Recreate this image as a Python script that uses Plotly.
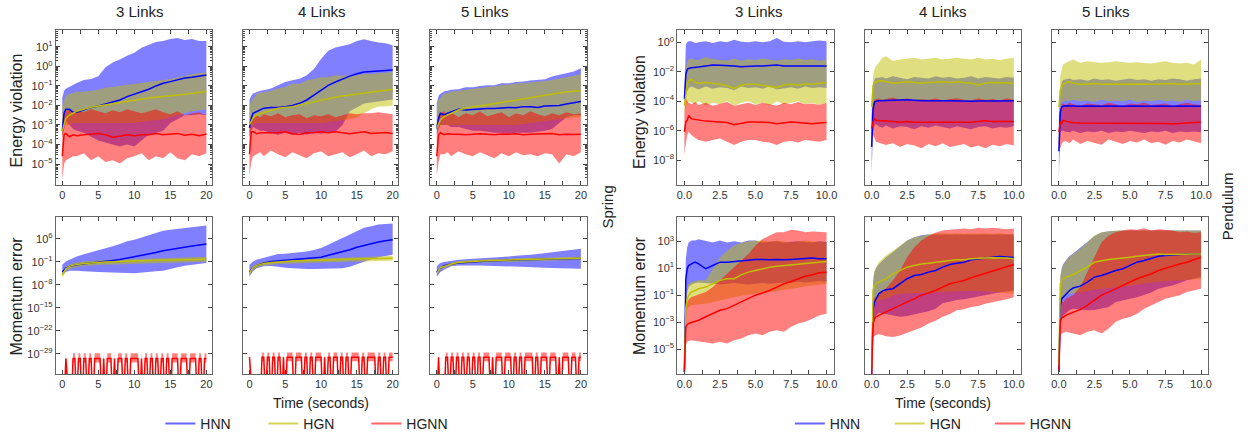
import plotly.graph_objects as go

# ------------------------------------------------------------------
# Data: log10 of the values
# ------------------------------------------------------------------
t_L = [0, 0.25, 0.5, 1, 1.5, 2, 3, 4, 5, 6, 7, 8, 9, 10, 11, 12, 13, 14, 15, 16, 17, 18, 19, 20]
t_S = [0, 0.25, 0.5, 0.75, 1, 1.25, 1.5, 1.75, 2, 2.25, 2.5, 2.75, 3, 3.25, 3.5, 3.75, 4, 4.25, 4.5, 4.75,
       5, 5.25, 5.5, 5.75, 6, 6.25, 6.5, 6.75, 7, 7.25, 7.5, 7.75, 8, 8.25, 8.5, 8.75, 9, 9.25, 9.5, 9.75,
       10, 10.25, 10.5, 10.75, 11, 11.25, 11.5, 11.75, 12, 12.25, 12.5, 12.75, 13, 13.25, 13.5, 13.75,
       14, 14.25, 14.5, 14.75, 15, 15.25, 15.5, 15.75, 16, 16.25, 16.5, 16.75, 17, 17.25, 17.5, 17.75,
       18, 18.25, 18.5, 18.75, 19, 19.25, 19.5, 19.75, 20]
t_R = [0, 0.05, 0.1, 0.2, 0.3, 0.5, 0.75, 1, 1.5, 2, 2.5, 3, 3.5, 4, 4.5, 5, 5.5, 6, 6.5, 7, 7.5, 8, 8.5, 9, 9.5, 10]

links = ["3 Links", "4 Links", "5 Links"]
models = ["HNN", "HGN", "HGNN"]

# ---- Spring, energy violation ----
spr3_ev_hnn_hi = [-1.6, -1.25, -1.15, -1.05, -0.95, -0.85, -0.7, -0.65, -0.5, -0.05, 0.2, 0.35, 0.55, 0.7, 0.95, 1.1, 1.25, 1.3, 1.4, 1.45, 1.35, 1.4, 1.3, 1.3]
spr3_ev_hnn_mid = [-3.3, -2.4, -2.2, -2.2, -2.35, -2.35, -2.23, -2.1, -2.03, -1.94, -1.85, -1.72, -1.55, -1.43, -1.29, -1.17, -1.0, -0.86, -0.78, -0.69, -0.6, -0.56, -0.49, -0.44]
spr3_ev_hnn_lo = [-3.6, -3.2, -2.8, -3.0, -3.2, -3.3, -3.4, -3.6, -3.8, -3.9, -4.0, -4.1, -4.0, -4.1, -3.8, -3.5, -3.4, -3.3, -2.9, -2.7, -2.5, -2.5, -2.45, -2.5]
spr3_ev_hgn_hi = [-2.0, -1.7, -1.5, -1.4, -1.35, -1.3, -1.3, -1.25, -1.2, -1.1, -1.05, -1.0, -0.95, -0.9, -0.85, -0.8, -0.75, -0.7, -0.65, -0.55, -0.5, -0.4, -0.35, -0.3]
spr3_ev_hgn_mid = [-3.3, -2.9, -2.66, -2.49, -2.4, -2.3, -2.2, -2.09, -2.03, -1.97, -1.9, -1.85, -1.78, -1.72, -1.67, -1.62, -1.58, -1.55, -1.5, -1.46, -1.42, -1.38, -1.33, -1.29]
spr3_ev_hgn_lo = [-3.6, -3.2, -3.0, -3.0, -2.9, -2.9, -2.9, -2.9, -2.9, -2.9, -2.9, -2.9, -2.9, -2.9, -2.85, -2.8, -2.75, -2.7, -2.6, -2.5, -2.4, -2.3, -2.25, -2.2]
spr3_ev_hgnn_hi = [-3.3, -2.4, -2.3, -2.2, -2.4, -2.25, -2.35, -2.2, -2.3, -2.4, -2.25, -2.35, -2.2, -2.3, -2.4, -2.3, -2.2, -2.35, -2.45, -2.3, -2.5, -2.4, -2.35, -2.5]
spr3_ev_hgnn_mid = [-4.6, -3.5, -3.43, -3.6, -3.5, -3.55, -3.5, -3.45, -3.43, -3.5, -3.63, -3.58, -3.5, -3.55, -3.5, -3.5, -3.43, -3.5, -3.46, -3.43, -3.52, -3.48, -3.55, -3.46]
spr3_ev_hgnn_lo = [-5.8, -5.0, -4.8, -4.7, -4.6, -4.6, -4.45, -4.8, -4.6, -4.9, -4.8, -4.97, -4.7, -4.6, -4.45, -4.8, -4.6, -4.7, -4.4, -4.7, -4.8, -4.5, -4.6, -4.45]

spr4_ev_hnn_hi = [-1.72, -1.5, -1.39, -1.3, -1.25, -1.22, -1.13, -0.97, -0.8, -0.71, -0.63, -0.46, -0.13, 0.38, 0.8, 0.97, 1.05, 1.13, 1.3, 1.39, 1.3, 1.22, 1.18, 1.08]
spr4_ev_hnn_mid = [-3.15, -2.65, -2.4, -2.31, -2.23, -2.14, -2.1, -2.1, -2.06, -2.0, -1.89, -1.72, -1.47, -1.22, -0.97, -0.8, -0.63, -0.5, -0.38, -0.29, -0.26, -0.24, -0.21, -0.18]
spr4_ev_hnn_lo = [-3.6, -3.3, -3.1, -3.2, -3.3, -3.3, -3.4, -3.5, -3.4, -3.5, -3.4, -3.5, -3.4, -3.45, -3.4, -3.35, -3.0, -2.3, -2.1, -1.9, -1.85, -1.8, -1.75, -1.7]
spr4_ev_hgn_hi = [-1.97, -1.8, -1.64, -1.39, -1.35, -1.3, -1.25, -1.13, -1.05, -0.88, -0.9, -0.71, -0.65, -0.55, -0.55, -0.46, -0.48, -0.45, -0.47, -0.38, -0.4, -0.35, -0.33, -0.26]
spr4_ev_hgn_mid = [-2.98, -2.8, -2.65, -2.48, -2.42, -2.35, -2.23, -2.14, -2.1, -2.06, -1.97, -1.89, -1.8, -1.72, -1.64, -1.58, -1.52, -1.47, -1.39, -1.35, -1.3, -1.26, -1.22, -1.18]
spr4_ev_hgn_lo = [-3.4, -3.2, -3.0, -2.9, -2.9, -2.9, -2.9, -2.9, -2.9, -2.9, -2.9, -2.9, -2.9, -2.9, -2.85, -2.8, -2.75, -2.7, -2.6, -2.4, -2.2, -2.05, -2.05, -2.0]
spr4_ev_hgnn_hi = [-3.3, -2.7, -2.6, -2.5, -2.6, -2.45, -2.55, -2.4, -2.6, -2.5, -2.45, -2.65, -2.5, -2.55, -2.45, -2.6, -2.5, -2.4, -2.45, -2.4, -2.4, -2.35, -2.4, -2.45]
spr4_ev_hgnn_mid = [-4.5, -3.35, -3.34, -3.45, -3.4, -3.4, -3.37, -3.4, -3.35, -3.45, -3.49, -3.4, -3.4, -3.35, -3.4, -3.35, -3.4, -3.45, -3.4, -3.35, -3.43, -3.42, -3.38, -3.44]
spr4_ev_hgnn_lo = [-5.6, -4.9, -4.6, -4.5, -4.4, -4.6, -4.3, -4.5, -4.65, -4.4, -4.55, -4.7, -4.45, -4.35, -4.6, -4.5, -4.4, -4.65, -4.5, -4.3, -4.6, -4.45, -4.5, -4.35]

spr5_ev_hnn_hi = [-1.9, -1.5, -1.4, -1.29, -1.25, -1.2, -1.17, -1.07, -1.07, -1.0, -0.97, -0.97, -0.86, -0.86, -0.8, -0.78, -0.72, -0.69, -0.66, -0.52, -0.44, -0.35, -0.26, -0.1]
spr5_ev_hnn_mid = [-3.17, -2.66, -2.4, -2.49, -2.4, -2.32, -2.2, -2.23, -2.2, -2.18, -2.16, -2.15, -2.13, -2.1, -2.12, -2.06, -2.06, -2.1, -2.03, -2.03, -2.0, -1.92, -1.85, -1.8]
spr5_ev_hnn_lo = [-3.5, -3.2, -3.0, -3.0, -3.0, -3.1, -3.1, -3.2, -3.3, -3.3, -3.35, -3.4, -3.4, -3.45, -3.4, -3.4, -3.4, -3.35, -3.3, -3.2, -2.9, -2.6, -2.5, -2.5]
spr5_ev_hgn_hi = [-2.1, -1.7, -1.6, -1.4, -1.35, -1.3, -1.25, -1.2, -1.15, -1.1, -1.05, -1.0, -0.95, -0.9, -0.88, -0.85, -0.82, -0.8, -0.75, -0.7, -0.62, -0.55, -0.48, -0.4]
spr5_ev_hgn_mid = [-3.17, -2.95, -2.74, -2.57, -2.48, -2.4, -2.23, -2.15, -2.06, -2.03, -1.97, -1.89, -1.83, -1.77, -1.72, -1.67, -1.61, -1.55, -1.49, -1.43, -1.37, -1.3, -1.27, -1.24]
spr5_ev_hgn_lo = [-3.5, -3.2, -3.0, -3.0, -3.0, -3.0, -3.0, -3.0, -3.0, -3.0, -3.0, -3.0, -3.0, -3.0, -3.0, -2.95, -2.9, -2.85, -2.8, -2.75, -2.7, -2.65, -2.6, -2.6]
spr5_ev_hgnn_hi = [-3.5, -2.5, -2.4, -2.3, -2.5, -2.35, -2.6, -2.4, -2.5, -2.3, -2.55, -2.45, -2.35, -2.6, -2.4, -2.5, -2.3, -2.45, -2.55, -2.4, -2.5, -2.35, -2.45, -2.4]
spr5_ev_hgnn_mid = [-4.6, -3.5, -3.4, -3.5, -3.45, -3.48, -3.47, -3.5, -3.48, -3.45, -3.48, -3.5, -3.46, -3.48, -3.45, -3.5, -3.47, -3.46, -3.48, -3.44, -3.5, -3.47, -3.49, -3.48]
spr5_ev_hgnn_lo = [-5.6, -4.9, -4.5, -4.5, -4.4, -4.6, -4.35, -4.5, -4.6, -4.4, -4.55, -4.7, -4.45, -4.6, -4.4, -4.55, -4.5, -4.6, -4.45, -4.5, -4.97, -4.5, -4.6, -4.4]

# ---- Spring, momentum error ----
spr3_me_hnn_hi = [-1.9, -1.3, -0.9, -0.4, 0.1, 0.6, 1.3, 1.9, 2.35, 3.0, 3.7, 4.4, 5.2, 5.7, 6.4, 7.2, 7.9, 8.4, 8.7, 9.0, 9.2, 9.4, 9.75, 10.0]
spr3_me_hnn_mid = [-4.1, -3.4, -2.9, -2.4, -2.1, -1.9, -1.6, -1.4, -1.1, -0.9, -0.6, -0.3, 0.1, 0.4, 0.9, 1.3, 1.8, 2.35, 2.75, 3.15, 3.45, 3.8, 4.1, 4.4]
spr3_me_hnn_lo = [-5.0, -4.5, -4.1, -3.7, -3.7, -3.7, -3.9, -4.1, -4.1, -4.2, -4.3, -4.4, -4.4, -4.5, -4.3, -4.1, -3.9, -3.7, -3.2, -2.7, -2.2, -1.9, -1.6, -1.4]
spr3_me_hgn_hi = [-4.2, -3.2, -2.5, -1.8, -1.4, -1.2, -0.9, -0.7, -0.6, -0.5, -0.4, -0.3, -0.2, -0.1, -0.05, 0.0, 0.05, 0.1, 0.15, 0.2, 0.3, 0.4, 0.45, 0.5]
spr3_me_hgn_mid = [-5.0, -3.9, -3.1, -2.4, -2.0, -1.8, -1.5, -1.3, -1.2, -1.1, -1.0, -0.9, -0.8, -0.7, -0.65, -0.6, -0.55, -0.5, -0.45, -0.4, -0.35, -0.3, -0.25, -0.2]
spr3_me_hgn_lo = [-6.0, -4.8, -3.9, -3.2, -2.8, -2.6, -2.3, -2.1, -2.0, -1.9, -1.8, -1.7, -1.6, -1.5, -1.45, -1.4, -1.35, -1.3, -1.25, -1.2, -1.15, -1.1, -1.05, -1.0]

spr4_me_hnn_hi = [-1.9, -1.3, -0.9, -0.4, -0.1, 0.1, 0.8, 1.35, 1.45, 1.65, 1.85, 2.15, 2.55, 3.2, 4.2, 5.2, 6.4, 7.45, 8.45, 9.3, 9.8, 10.3, 10.5, 10.6]
spr4_me_hnn_mid = [-4.1, -3.2, -2.7, -2.1, -1.7, -1.4, -0.9, -0.7, -0.6, -0.4, -0.2, -0.1, 0.1, 0.4, 0.95, 1.45, 1.95, 2.65, 3.4, 4.0, 4.5, 5.0, 5.4, 5.7]
spr4_me_hnn_lo = [-5.45, -4.6, -3.9, -3.0, -2.6, -2.4, -2.3, -2.5, -2.8, -3.0, -3.1, -3.2, -3.2, -3.2, -3.2, -3.1, -3.0, -2.5, -1.9, -1.0, -0.2, 0.4, 0.8, 1.1]
spr4_me_hgn_hi = [-3.7, -2.8, -2.2, -1.6, -1.25, -1.0, -0.7, -0.5, -0.4, -0.3, -0.2, -0.1, -0.05, 0.0, 0.05, 0.1, 0.2, 0.3, 0.35, 0.45, 0.55, 0.65, 0.75, 0.8]
spr4_me_hgn_mid = [-4.45, -3.4, -2.7, -2.1, -1.75, -1.5, -1.2, -1.0, -0.9, -0.8, -0.7, -0.6, -0.55, -0.5, -0.45, -0.4, -0.3, -0.2, -0.15, -0.1, -0.05, 0.0, 0.05, 0.1]
spr4_me_hgn_lo = [-5.4, -4.2, -3.4, -2.8, -2.4, -2.2, -1.9, -1.7, -1.6, -1.5, -1.4, -1.3, -1.25, -1.2, -1.15, -1.1, -1.0, -0.95, -0.9, -0.85, -0.8, -0.75, -0.7, -0.7]

spr5_me_hnn_hi = [-2.4, -1.8, -1.4, -1.1, -0.9, -0.7, -0.4, -0.2, -0.1, 0.1, 0.2, 0.3, 0.5, 0.6, 0.8, 0.9, 1.15, 1.35, 1.65, 1.95, 2.15, 2.35, 2.65, 2.95]
spr5_me_hnn_mid = [-4.1, -3.4, -2.9, -2.2, -1.9, -1.7, -1.4, -1.2, -1.1, -0.9, -0.8, -0.7, -0.6, -0.5, -0.45, -0.4, -0.35, -0.3, -0.25, -0.2, -0.15, -0.1, -0.05, 0.0]
spr5_me_hnn_lo = [-5.45, -4.7, -4.1, -3.4, -2.8, -2.4, -2.1, -2.1, -2.1, -2.1, -2.2, -2.2, -2.3, -2.4, -2.4, -2.5, -2.6, -2.7, -2.8, -2.9, -3.0, -3.05, -3.1, -3.1]
spr5_me_hgn_hi = [-3.9, -2.9, -2.35, -1.95, -1.55, -1.3, -0.8, -0.6, -0.5, -0.4, -0.3, -0.2, -0.1, 0.0, 0.05, 0.1, 0.15, 0.2, 0.25, 0.3, 0.35, 0.4, 0.45, 0.5]
spr5_me_hgn_mid = [-4.45, -3.4, -2.8, -2.4, -1.95, -1.7, -1.2, -1.0, -0.9, -0.8, -0.7, -0.6, -0.5, -0.4, -0.35, -0.3, -0.25, -0.2, -0.15, -0.1, -0.05, 0.0, 0.05, 0.1]
spr5_me_hgn_lo = [-5.0, -3.9, -3.3, -2.9, -2.45, -2.2, -1.7, -1.5, -1.4, -1.3, -1.2, -1.1, -1.0, -0.9, -0.85, -0.8, -0.75, -0.7, -0.65, -0.6, -0.55, -0.5, -0.45, -0.4]

# HGNN momentum error on the spring is ~1e-30 and exactly zero at many steps.
spr3_me_hgnn_on = [0, 0, 1, 0, 0, 0, 1, 1, 0, 1, 1, 0, 1, 1, 0, 1, 1, 0, 1, 1, 1, 1, 0, 1, 0, 1, 1, 1, 0, 1, 0, 1,
                   1, 1, 0, 1, 1, 0, 1, 1, 1, 1, 1, 0, 1, 0, 1, 1, 0, 1, 1, 0, 1, 1, 0, 1, 1, 0, 1, 1, 0, 1, 1, 1,
                   1, 0, 1, 1, 1, 1, 0, 1, 1, 1, 1, 0, 1, 1, 0, 1, 1]
spr4_me_hgnn_on = [1, 0, 0, 0, 0, 0, 0, 1, 1, 0, 1, 1, 0, 1, 1, 0, 1, 1, 0, 1, 0, 1, 1, 1, 1, 0, 1, 1, 1, 1, 0, 1,
                   1, 0, 1, 1, 0, 1, 1, 1, 1, 0, 1, 0, 1, 1, 0, 1, 1, 1, 0, 1, 1, 0, 1, 1, 0, 1, 1, 1, 1, 1, 0, 1,
                   1, 0, 1, 1, 1, 1, 1, 0, 1, 1, 0, 1, 1, 0, 1, 1, 1]
spr5_me_hgnn_on = [0, 1, 0, 0, 0, 1, 1, 0, 1, 1, 0, 1, 1, 0, 1, 1, 0, 1, 1, 0, 1, 1, 0, 1, 1, 0, 1, 1, 1, 1, 0, 1,
                   0, 1, 1, 1, 1, 0, 1, 1, 1, 1, 0, 1, 1, 0, 1, 1, 0, 1, 1, 1, 1, 1, 0, 1, 1, 0, 1, 1, 1, 1, 0, 1,
                   1, 1, 1, 0, 1, 0, 1, 1, 1, 1, 0, 1, 1, 1, 0, 1, 1]
# levels (log10) of the non-zero samples: band top, mean, band bottom
spr3_me_hgnn_lvl = (-28.8, -30.4, -31.6)
spr4_me_hgnn_lvl = (-28.6, -30.0, -31.2)
spr5_me_hgnn_lvl = (-28.6, -30.0, -31.2)
ZERO_LOG = -45  # zero values drop below the axis

# ---- Pendulum, energy violation ----
pen3_ev_hnn_hi = [-3.85, -1.6, -0.16, 0.0, 0.07, 0.07, -0.05, 0.0, 0.07, -0.05, 0.07, 0.0, 0.18, 0.05, 0.0, 0.07, 0.0, 0.07, 0.29, 0.05, 0.0, 0.07, 0.0, 0.07, 0.12, 0.07]
pen3_ev_hnn_mid = [-3.85, -2.95, -2.17, -1.83, -1.77, -1.72, -1.72, -1.68, -1.61, -1.54, -1.56, -1.61, -1.61, -1.65, -1.61, -1.61, -1.61, -1.56, -1.54, -1.61, -1.61, -1.65, -1.61, -1.65, -1.61, -1.61]
pen3_ev_hnn_lo = [-4.0, -3.7, -3.5, -3.3, -3.1, -3.0, -3.1, -3.2, -3.0, -3.15, -3.05, -3.1, -3.25, -3.0, -3.1, -3.05, -3.15, -3.0, -3.2, -3.1, -3.05, -3.15, -3.0, -3.1, -3.05, -3.1]
pen3_ev_hgn_hi = [-4.0, -2.8, -1.8, -1.3, -1.15, -1.1, -1.2, -1.2, -1.0, -1.15, -1.2, -1.25, -1.1, -1.25, -1.15, -1.2, -1.1, -1.2, -1.25, -1.15, -1.2, -1.1, -1.2, -1.15, -1.25, -1.15]
pen3_ev_hgn_mid = [-4.3, -3.85, -3.3, -2.84, -2.62, -2.5, -2.72, -2.77, -2.72, -2.77, -2.84, -2.95, -3.13, -2.9, -2.84, -2.84, -2.9, -3.0, -3.06, -2.9, -2.84, -2.9, -2.84, -2.84, -2.77, -2.73]
pen3_ev_hgn_lo = [-4.8, -4.6, -4.3, -4.1, -4.0, -4.1, -4.2, -4.0, -4.3, -4.1, -4.2, -4.0, -4.3, -4.1, -4.0, -4.2, -4.1, -4.3, -4.0, -4.2, -4.1, -4.0, -4.2, -4.1, -4.25, -4.1]
pen3_ev_hgnn_hi = [-4.8, -4.3, -3.8, -4.0, -4.1, -4.2, -4.05, -4.25, -4.1, -4.3, -4.15, -4.05, -4.3, -4.2, -4.1, -4.25, -4.1, -4.2, -4.3, -4.1, -4.2, -4.05, -4.2, -4.15, -4.25, -4.1]
pen3_ev_hgnn_mid = [-6.08, -5.6, -5.4, -5.3, -4.97, -5.2, -5.25, -5.3, -5.35, -5.37, -5.41, -5.45, -5.6, -5.48, -5.41, -5.41, -5.41, -5.45, -5.52, -5.45, -5.41, -5.45, -5.48, -5.52, -5.48, -5.45]
pen3_ev_hgnn_lo = [-7.65, -7.2, -6.75, -6.3, -6.08, -6.3, -6.5, -6.64, -6.75, -6.64, -6.53, -6.75, -6.98, -6.75, -6.64, -6.64, -6.75, -6.8, -6.98, -6.75, -6.7, -6.8, -6.64, -6.7, -6.75, -6.64]

pen4_ev_hnn_hi = [-5.0, -3.5, -2.8, -2.5, -2.4, -2.4, -2.35, -2.45, -2.3, -2.4, -2.5, -2.35, -2.4, -2.45, -2.3, -2.4, -2.35, -2.45, -2.4, -2.3, -2.45, -2.35, -2.4, -2.45, -2.35, -2.4]
pen4_ev_hnn_mid = [-7.1, -5.86, -4.52, -4.07, -4.0, -3.96, -3.96, -3.96, -3.94, -3.92, -3.9, -3.94, -3.96, -3.96, -3.98, -3.96, -3.96, -3.98, -3.98, -4.0, -3.98, -4.0, -3.98, -3.98, -3.96, -3.96]
pen4_ev_hnn_lo = [-8.9, -7.4, -6.1, -5.64, -5.55, -5.7, -5.8, -5.65, -5.85, -5.7, -5.75, -5.9, -5.7, -5.8, -5.65, -5.75, -5.85, -5.7, -5.8, -5.9, -5.75, -5.7, -5.85, -5.75, -5.8, -5.7]
pen4_ev_hgn_hi = [-4.3, -2.95, -2.28, -1.83, -1.6, -1.38, -1.05, -0.94, -1.27, -1.16, -1.12, -1.05, -1.16, -1.12, -1.05, -1.16, -1.12, -1.05, -1.12, -1.16, -1.05, -1.16, -1.12, -1.2, -1.12, -1.05]
pen4_ev_hgn_mid = [-4.4, -3.6, -2.95, -2.73, -2.68, -2.61, -2.61, -2.68, -2.77, -2.73, -2.68, -2.73, -2.77, -2.73, -2.68, -2.68, -2.73, -2.68, -2.73, -2.77, -2.9, -2.77, -2.73, -2.73, -2.73, -2.77]
pen4_ev_hgn_lo = [-5.0, -4.5, -4.2, -4.0, -3.95, -3.9, -4.0, -3.95, -3.9, -4.0, -3.95, -3.9, -4.0, -3.95, -3.9, -4.0, -3.95, -3.9, -4.0, -3.95, -3.9, -4.0, -3.95, -3.9, -3.95, -3.9]
pen4_ev_hgnn_hi = [-5.0, -4.6, -4.2, -3.9, -3.85, -3.8, -3.95, -3.85, -3.75, -3.9, -3.8, -3.95, -3.85, -3.9, -3.8, -3.95, -3.85, -3.8, -3.9, -3.95, -3.8, -3.9, -3.85, -3.95, -3.8, -3.9]
pen4_ev_hgnn_mid = [-5.86, -5.6, -5.4, -5.2, -5.3, -5.3, -5.33, -5.35, -5.38, -5.42, -5.38, -5.42, -5.42, -5.42, -5.42, -5.46, -5.46, -5.42, -5.42, -5.42, -5.38, -5.33, -5.38, -5.38, -5.38, -5.38]
pen4_ev_hgnn_lo = [-6.5, -6.4, -6.3, -6.5, -6.75, -6.8, -6.9, -6.98, -6.85, -7.1, -6.9, -7.0, -7.2, -6.9, -7.05, -6.85, -7.1, -7.0, -6.9, -7.15, -7.0, -7.2, -6.95, -7.05, -6.9, -7.0]

pen5_ev_hnn_hi = [-5.0, -3.8, -3.2, -2.7, -2.55, -2.5, -2.45, -2.55, -2.5, -2.6, -2.45, -2.55, -2.5, -2.6, -2.5, -2.45, -2.55, -2.5, -2.6, -2.5, -2.55, -2.45, -2.5, -2.6, -2.5, -2.45]
pen5_ev_hnn_mid = [-7.4, -6.1, -4.75, -4.4, -4.34, -4.3, -4.32, -4.34, -4.34, -4.32, -4.34, -4.34, -4.32, -4.34, -4.34, -4.32, -4.34, -4.34, -4.34, -4.32, -4.34, -4.34, -4.32, -4.34, -4.34, -4.34]
pen5_ev_hnn_lo = [-9.2, -7.4, -6.1, -6.0, -6.0, -6.08, -6.1, -6.0, -6.15, -6.05, -6.1, -6.0, -6.15, -6.05, -6.1, -6.0, -6.1, -6.15, -6.05, -6.1, -6.0, -6.15, -6.05, -6.1, -6.05, -6.1]
pen5_ev_hgn_hi = [-4.3, -2.95, -2.28, -1.83, -1.5, -1.39, -1.28, -1.16, -1.39, -1.28, -1.35, -1.39, -1.35, -1.28, -1.35, -1.39, -1.35, -1.39, -1.43, -1.35, -1.28, -1.39, -1.43, -1.39, -1.5, -1.16]
pen5_ev_hgn_mid = [-4.4, -3.85, -3.3, -3.0, -2.84, -2.73, -2.68, -2.77, -2.84, -2.84, -2.8, -2.84, -2.82, -2.82, -2.84, -2.82, -2.8, -2.82, -2.84, -2.82, -2.82, -2.8, -2.84, -2.82, -2.82, -2.8]
pen5_ev_hgn_lo = [-5.0, -4.6, -4.3, -4.1, -4.0, -3.95, -4.0, -3.9, -4.0, -3.95, -4.05, -3.9, -4.0, -3.95, -4.0, -3.9, -4.05, -3.95, -4.0, -3.9, -4.0, -3.95, -4.05, -3.9, -4.0, -3.95]
pen5_ev_hgnn_hi = [-5.5, -5.0, -4.5, -4.2, -4.15, -4.25, -4.1, -4.2, -4.3, -4.15, -4.2, -4.25, -4.1, -4.2, -4.3, -4.15, -4.2, -4.1, -4.25, -4.2, -4.15, -4.3, -4.2, -4.1, -4.2, -4.25]
pen5_ev_hgnn_mid = [-6.1, -5.6, -5.4, -5.5, -5.3, -5.35, -5.42, -5.46, -5.48, -5.48, -5.5, -5.5, -5.5, -5.48, -5.5, -5.5, -5.5, -5.5, -5.52, -5.5, -5.52, -5.55, -5.5, -5.46, -5.44, -5.42]
pen5_ev_hgnn_lo = [-7.0, -7.2, -7.2, -6.9, -6.75, -6.7, -6.85, -6.6, -6.9, -6.7, -6.8, -6.95, -6.6, -6.75, -6.9, -6.7, -6.8, -6.6, -6.85, -6.75, -6.95, -6.7, -6.8, -6.6, -6.7, -6.85]

# ---- Pendulum, momentum error ----
pen3_me_hnn_hi = [-4.7, -0.03, 1.7, 2.55, 2.9, 3.05, 3.05, 3.15, 3.05, 2.9, 3.05, 2.9, 3.0, 2.9, 3.05, 3.05, 2.9, 2.95, 3.0, 2.9, 2.95, 3.0, 2.95, 2.9, 3.0, 2.95]
pen3_me_hnn_mid = [-6.7, -1.26, 0.2, 0.96, 1.2, 1.32, 1.45, 1.32, 0.96, 1.2, 1.45, 1.45, 1.5, 1.57, 1.62, 1.65, 1.65, 1.62, 1.65, 1.62, 1.65, 1.7, 1.7, 1.75, 1.7, 1.7]
pen3_me_hnn_lo = [-7.0, -3.5, -2.0, -0.8, -0.4, -0.2, -0.1, -0.05, -0.1, -0.15, -0.2, -0.15, -0.1, -0.15, -0.2, -0.15, -0.1, -0.15, -0.1, -0.05, -0.1, 0.0, -0.05, 0.0, 0.05, 0.0]
pen3_me_hgn_hi = [-6.2, -2.25, -1.0, -0.4, -0.15, -0.03, 0.05, 0.1, 0.1, 0.96, 1.8, 2.3, 2.7, 2.88, 3.0, 3.05, 3.05, 2.98, 3.05, 2.98, 2.93, 2.98, 3.05, 2.98, 2.98, 2.93]
pen3_me_hgn_mid = [-6.7, -3.7, -2.0, -1.26, -1.0, -0.77, -0.65, -0.52, -0.4, -0.15, 0.1, 0.22, 0.22, 0.51, 0.71, 0.83, 0.96, 1.08, 1.15, 1.2, 1.25, 1.32, 1.37, 1.4, 1.45, 1.5]
pen3_me_hgn_lo = [-7.0, -5.0, -3.5, -2.0, -1.9, -1.75, -1.7, -1.68, -1.63, -1.5, -1.38, -1.26, -1.15, -1.05, -0.95, -0.9, -0.85, -0.77, -0.7, -0.6, -0.5, -0.45, -0.35, -0.25, -0.2, -0.15]
pen3_me_hgnn_hi = [-6.7, -3.23, -2.0, -1.5, -1.3, -1.14, -1.05, -1.0, -0.77, -0.4, 0.1, 0.59, 1.08, 1.57, 2.06, 2.68, 3.17, 3.42, 3.67, 3.67, 3.86, 3.79, 3.67, 3.72, 3.72, 3.67]
pen3_me_hgnn_mid = [-6.7, -3.7, -3.35, -3.18, -3.1, -3.03, -2.94, -2.86, -2.6, -2.37, -2.12, -2.0, -1.75, -1.5, -1.26, -1.0, -0.84, -0.65, -0.4, -0.15, 0.02, 0.22, 0.41, 0.51, 0.66, 0.71]
pen3_me_hgnn_lo = [-7.0, -5.7, -4.7, -4.46, -4.4, -4.34, -4.4, -4.46, -4.52, -4.59, -4.46, -4.59, -4.34, -4.22, -3.97, -3.85, -3.97, -3.72, -3.6, -3.72, -3.35, -3.1, -2.98, -2.74, -2.49, -2.37]

pen4_me_hnn_hi = [-5.0, -1.5, 0.0, 0.7, 1.0, 1.3, 1.55, 1.8, 2.2, 2.6, 3.05, 3.3, 3.45, 3.5, 3.5, 3.55, 3.5, 3.55, 3.5, 3.55, 3.5, 3.55, 3.5, 3.5, 3.55, 3.5]
pen4_me_hnn_mid = [-7.0, -3.6, -2.1, -1.5, -1.27, -0.9, -0.7, -0.6, -0.52, -0.15, 0.22, 0.46, 0.54, 0.71, 0.83, 1.08, 1.27, 1.37, 1.45, 1.62, 1.7, 1.75, 1.82, 1.87, 1.82, 1.8]
pen4_me_hnn_lo = [-7.5, -5.0, -3.5, -2.8, -2.5, -2.3, -2.35, -2.4, -2.5, -2.6, -2.55, -2.45, -2.3, -2.2, -2.0, -1.6, -1.5, -1.35, -1.3, -1.25, -1.1, -1.0, -0.9, -0.8, -0.7, -0.65]
pen4_me_hgn_hi = [-4.1, -0.9, 0.33, 0.83, 1.08, 1.45, 1.7, 1.95, 2.3, 2.68, 3.05, 3.3, 3.4, 3.55, 3.6, 3.6, 3.55, 3.6, 3.55, 3.6, 3.55, 3.6, 3.55, 3.6, 3.55, 3.5]
pen4_me_hgn_mid = [-6.5, -1.6, -0.65, -0.28, -0.15, -0.03, 0.09, 0.21, 0.58, 0.83, 1.08, 1.2, 1.32, 1.37, 1.45, 1.52, 1.57, 1.62, 1.62, 1.7, 1.7, 1.75, 1.77, 1.77, 1.75, 1.7]
pen4_me_hgn_lo = [-7.0, -4.0, -2.5, -1.6, -1.5, -1.4, -1.3, -1.27, -1.0, -0.9, -0.88, -0.85, -0.82, -0.8, -0.78, -0.75, -0.73, -0.7, -0.7, -0.68, -0.68, -0.7, -0.75, -0.8, -0.85, -0.9]
pen4_me_hgnn_hi = [-7.0, -3.0, -1.5, -1.2, -1.15, -0.9, -0.7, -0.5, 0.1, 0.83, 1.82, 2.55, 3.05, 3.4, 3.65, 3.8, 3.85, 3.9, 3.95, 3.9, 4.0, 3.95, 4.0, 3.95, 3.9, 3.95]
pen4_me_hgnn_mid = [-7.0, -4.1, -3.1, -2.75, -2.6, -2.5, -2.37, -2.25, -2.0, -1.75, -1.5, -1.27, -1.0, -0.84, -0.65, -0.4, -0.15, -0.03, 0.09, 0.29, 0.46, 0.58, 0.78, 0.95, 1.12, 1.27]
pen4_me_hgnn_lo = [-7.0, -5.0, -4.1, -4.0, -3.95, -3.9, -3.95, -4.05, -4.1, -4.0, -3.85, -3.6, -3.4, -3.1, -2.9, -2.6, -2.4, -2.12, -2.05, -1.87, -1.8, -1.63, -1.55, -1.4, -1.3, -1.15]

pen5_me_hnn_hi = [-5.0, -1.0, 0.3, 1.0, 1.3, 1.6, 1.9, 2.1, 2.5, 2.95, 3.4, 3.65, 3.75, 3.8, 3.8, 3.8, 3.8, 3.8, 3.8, 3.8, 3.8, 3.8, 3.8, 3.8, 3.8, 3.8]
pen5_me_hnn_mid = [-6.7, -2.74, -1.75, -1.26, -1.14, -0.89, -0.65, -0.47, -0.33, -0.03, 0.34, 0.46, 0.66, 0.83, 0.96, 1.2, 1.45, 1.57, 1.74, 1.89, 1.94, 1.99, 1.99, 2.06, 2.06, 2.06]
pen5_me_hnn_lo = [-7.5, -5.0, -3.5, -2.8, -2.5, -2.3, -2.1, -2.0, -2.05, -2.12, -2.1, -2.0, -1.88, -1.5, -1.4, -1.26, -1.15, -1.0, -0.8, -0.52, -0.4, -0.28, -0.1, 0.1, 0.2, 0.34]
pen5_me_hgn_hi = [-3.2, -0.28, 0.46, 0.95, 1.2, 1.57, 1.82, 2.06, 2.43, 2.93, 3.42, 3.67, 3.75, 3.79, 3.8, 3.8, 3.78, 3.8, 3.78, 3.8, 3.78, 3.8, 3.78, 3.8, 3.78, 3.8]
pen5_me_hgn_mid = [-6.2, -1.0, -0.15, 0.1, 0.22, 0.34, 0.42, 0.51, 0.83, 1.08, 1.45, 1.57, 1.65, 1.7, 1.74, 1.82, 1.89, 1.94, 1.99, 2.06, 2.02, 2.04, 2.04, 2.06, 2.06, 2.06]
pen5_me_hgn_lo = [-7.0, -3.0, -1.5, -1.26, -1.15, -1.0, -0.9, -0.85, -0.77, -0.7, -0.6, -0.5, -0.45, -0.4, -0.35, -0.3, -0.2, -0.1, -0.05, 0.0, 0.05, 0.1, 0.12, 0.15, 0.18, 0.2]
pen5_me_hgnn_hi = [-7.0, -3.0, -1.5, -1.5, -1.5, -1.26, -1.1, -1.0, -0.4, 0.71, 1.94, 2.93, 3.42, 3.67, 3.79, 3.9, 3.85, 3.96, 3.79, 3.9, 3.85, 3.79, 3.67, 3.72, 3.62, 3.67]
pen5_me_hgnn_mid = [-6.7, -3.72, -2.86, -2.7, -2.62, -2.49, -2.37, -2.25, -2.07, -1.75, -1.38, -1.0, -0.77, -0.52, -0.28, -0.03, 0.22, 0.41, 0.59, 0.83, 1.0, 1.2, 1.32, 1.45, 1.65, 1.82]
pen5_me_hgnn_lo = [-7.0, -5.0, -3.97, -3.85, -3.8, -3.72, -3.8, -3.85, -3.97, -3.72, -3.6, -3.85, -3.47, -2.98, -2.74, -2.62, -2.37, -2.0, -1.75, -1.5, -1.26, -1.14, -1.0, -0.77, -0.65, -0.52]

# ------------------------------------------------------------------
W, H = 1250, 440
FONT = "Liberation Sans, Arial, sans-serif"
RGB = {"HNN": (0, 0, 255), "HGN": (191, 191, 0), "HGNN": (255, 0, 0)}

def ser(name, t, lo, mid, hi):
    assert len(t) == len(lo) == len(mid) == len(hi), name
    return (name, t, lo, mid, hi)

def onoff(on, lvl):
    hi = [lvl[0] if o else ZERO_LOG for o in on]
    mid = [lvl[1] if o else ZERO_LOG for o in on]
    lo = [lvl[2] if o else ZERO_LOG for o in on]
    return lo, mid, hi

G = globals()
panels = []
col_x_L = [(55, 212), (243, 399), (431, 588)]
col_x_R = [(679, 836), (867, 1024), (1055, 1212)]
row_y = {"top": (30, 186), "bot": (218, 376)}
idx = 1
for grp, cols, sys_ in (("L", col_x_L, "spr"), ("R", col_x_R, "pen")):
    for row, q in (("top", "ev"), ("bot", "me")):
        for c in range(3):
            n = c + 3
            sers = []
            for m in models:
                key = f"{sys_}{n}_{q}_{m.lower()}"
                if grp == "L" and q == "me" and m == "HGNN":
                    lo, mid, hi = onoff(G[key + "_on"], G[key + "_lvl"])
                    sers.append(ser(key, t_S, lo, mid, hi))
                else:
                    tt = t_L if grp == "L" else t_R
                    sers.append(ser(key, tt, G[key + "_lo"], G[key + "_mid"], G[key + "_hi"]))
            panels.append(dict(ax=idx, grp=grp, row=row, col=c, xpx=cols[c], ypx=row_y[row], series=sers))
            idx += 1

def sup(e):
    return "10<sup>" + (("\u2212" + str(-e)) if e < 0 else str(e)) + "</sup>"

YCFG = {
    ("L", "top"): dict(range=[-6.08, 1.87], exps=[-5, -4, -3, -2, -1, 0, 1], minor=True),
    ("L", "bot"): dict(range=[-35.2, 12.6], exps=[-29, -22, -15, -8, -1, 6], minor=False),
    ("R", "top"): dict(range=[-9.7, 0.85], exps=[-8, -6, -4, -2, 0], minor=False),
    ("R", "bot"): dict(range=[-6.87, 4.8], exps=[-5, -3, -1, 1, 3], minor=False),
}

fig = go.Figure()
TICKFONT = dict(family=FONT, size=11, color="#333")

for p in panels:
    s = "" if p["ax"] == 1 else str(p["ax"])
    xref, yref = "x" + s, "y" + s
    for name, t, lo, mid, hi in p["series"]:
        m = name.split("_")[-1].upper()
        r, g, b = RGB[m]
        xs = list(t) + list(t)[::-1]
        ys = [10 ** v for v in hi] + [10 ** v for v in lo][::-1]
        fig.add_trace(go.Scatter(x=xs, y=ys, mode="lines", fill="toself",
                                 fillcolor=f"rgba({r},{g},{b},0.5)", line=dict(width=0),
                                 hoverinfo="skip", showlegend=False, xaxis=xref, yaxis=yref))
    for name, t, lo, mid, hi in p["series"]:
        m = name.split("_")[-1].upper()
        r, g, b = RGB[m]
        fig.add_trace(go.Scatter(x=t, y=[10 ** v for v in mid], mode="lines",
                                 line=dict(color=f"rgb({r},{g},{b})", width=1.5),
                                 showlegend=False, xaxis=xref, yaxis=yref))

    x0, x1 = p["xpx"]
    y0, y1 = p["ypx"]
    if p["grp"] == "L":
        xcfg = dict(range=[-0.9, 20.8], tick0=0, dtick=5,
                    minor=dict(dtick=2.5, ticks="inside", ticklen=4, tickcolor="#444"))
    else:
        xcfg = dict(range=[-0.5, 10.5], tick0=0, dtick=2.5, tickformat=".1f",
                    minor=dict(dtick=1.25, ticks="inside", ticklen=4, tickcolor="#444"))
    fig.layout["xaxis" + s] = dict(domain=[x0 / W, x1 / W], anchor=yref, showline=True, mirror="allticks",
                                   linecolor="#666", linewidth=1, ticks="inside", ticklen=4, tickcolor="#444",
                                   showgrid=False, zeroline=False, tickfont=TICKFONT, **xcfg)
    yc = YCFG[(p["grp"], p["row"])]
    ycfg = dict(type="log", range=yc["range"], tickmode="array",
                tickvals=[10 ** e for e in yc["exps"]], ticktext=[sup(e) for e in yc["exps"]])
    if yc["minor"]:
        mv = [k * 10 ** e for e in range(-7, 2) for k in range(2, 10)]
        ycfg["minor"] = dict(tickmode="array", tickvals=mv, ticks="inside", ticklen=2, tickcolor="#444")
    fig.layout["yaxis" + s] = dict(domain=[1 - y1 / H, 1 - y0 / H], anchor=xref, showline=True, mirror="allticks",
                                   linecolor="#666", linewidth=1, ticks="inside", ticklen=4, tickcolor="#444",
                                   showgrid=False, zeroline=False, tickfont=TICKFONT,
                                   showticklabels=(p["col"] == 0), **ycfg)

# legend entries
for leg in ("legend", "legend2"):
    for m, a in zip(models, (0.6, 0.65, 0.6)):
        r, g, b = RGB[m]
        fig.add_trace(go.Scatter(x=[None], y=[None], mode="lines", name=m,
                                 line=dict(color=f"rgba({r},{g},{b},{a})", width=2),
                                 legend=leg, xaxis="x", yaxis="y"))

ann = []
def A(text, xpx, ypx, size, angle=0):
    ann.append(dict(text=text, x=xpx / W, y=1 - ypx / H, xref="paper", yref="paper", showarrow=False,
                    xanchor="center", yanchor="middle", textangle=angle,
                    font=dict(family=FONT, size=size, color="#222")))

for txt, xp in zip(links * 2, (140, 322, 486, 761, 946, 1109)):
    A(txt, xp, 12, 15)
A("Energy violation", 16, 111, 16, -90)
A("Momentum error", 16, 297, 16, -90)
A("Energy violation", 641, 112, 16, -90)
A("Momentum error", 641, 297, 16, -90)
A("Spring", 608, 208, 15, -90)
A("Pendulum", 1231, 207, 15, -90)
A("Time (seconds)", 321, 405, 14)
A("Time (seconds)", 946, 405, 14)

legcommon = dict(orientation="h", yanchor="middle", xanchor="left", entrywidthmode="pixels",
                 font=dict(family=FONT, size=14, color="#222"), bgcolor="rgba(0,0,0,0)", itemwidth=30)
fig.update_layout(
    width=W, height=H, margin=dict(l=0, r=0, t=0, b=0),
    paper_bgcolor="white", plot_bgcolor="white",
    font=dict(family=FONT, color="#222"),
    annotations=ann,
    legend=dict(x=160 / W, y=1 - 426 / H, entrywidth=58, **legcommon),
    legend2=dict(x=792 / W, y=1 - 426 / H, entrywidth=55, **legcommon),
)

fig.write_html("out.html")
